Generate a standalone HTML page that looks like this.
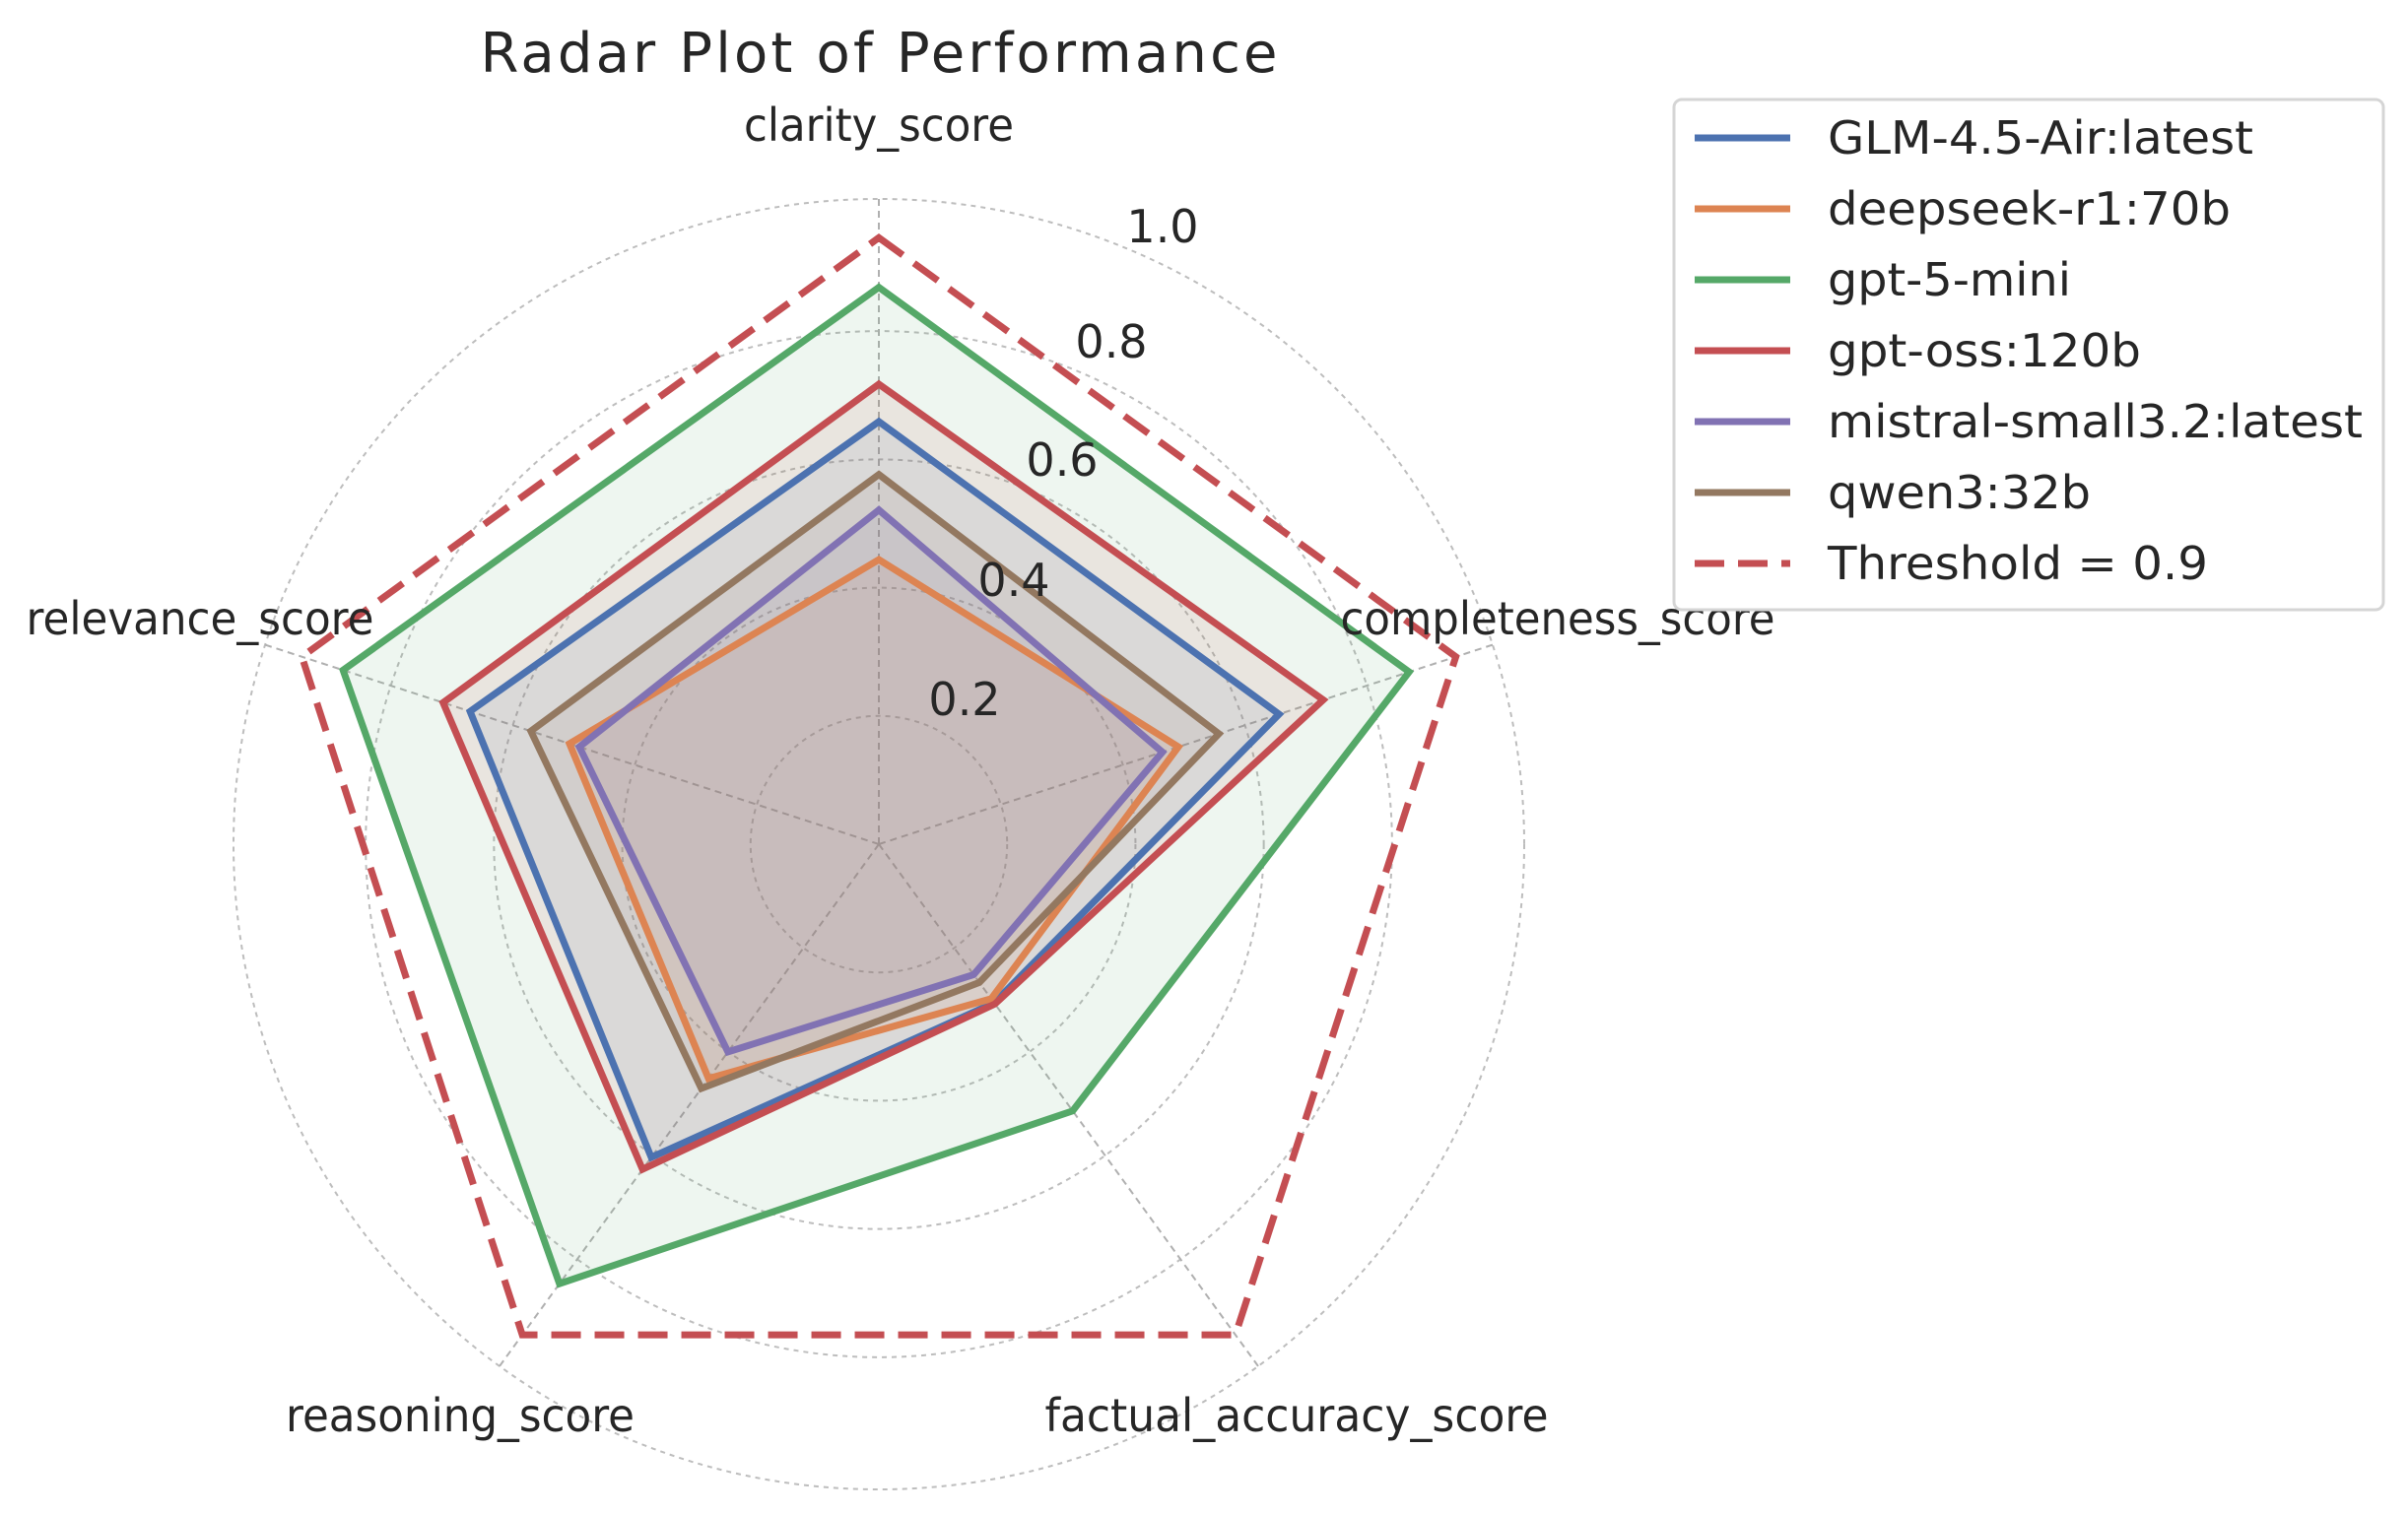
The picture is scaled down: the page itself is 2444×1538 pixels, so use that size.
<!DOCTYPE html>
<html><head><meta charset="utf-8"><title>Radar Plot of Performance</title>
<style>
html,body{margin:0;padding:0;background:#fff;}
svg{display:block;}
text{font-family:"DejaVu Sans","Liberation Sans",sans-serif;fill:#262626;}
</style></head>
<body>
<svg id="chart" width="2444" height="1538" viewBox="0 0 2444 1538" xmlns="http://www.w3.org/2000/svg">
  <text x="892" y="73" font-size="56" text-anchor="middle" textLength="809">Radar Plot of Performance</text>
  <g id="grid"></g>
  <g id="series"></g>
  <g id="ticks"></g>
  <g id="axislabels"></g>
  <g id="legend"></g>
</svg>
<script>
const categories = ["clarity_score","completeness_score","factual_accuracy_score","reasoning_score","relevance_score"];
const seriesNames = ["GLM-4.5-Air:latest","deepseek-r1:70b","gpt-5-mini","gpt-oss:120b","mistral-small3.2:latest","qwen3:32b"];
const glmValues = [0.655,0.652,0.304,0.600,0.666];
const deepseekValues = [0.441,0.488,0.296,0.449,0.504];
const gpt5Values = [0.863,0.864,0.511,0.842,0.873];
const gptossValues = [0.713,0.724,0.306,0.623,0.710];
const mistralValues = [0.518,0.462,0.250,0.398,0.488];
const qwenValues = [0.573,0.554,0.265,0.468,0.567];
const thresholdValue = 0.94;
const thresholdLabel = "Threshold = 0.9";
const tickValues = [0.2,0.4,0.6,0.8,1.0];
const tickLabels = ["0.2","0.4","0.6","0.8","1.0"];

const NS = "http://www.w3.org/2000/svg";
const CX = 892, CY = 857, R = 655;
const colors = ["#4c72b0","#dd8452","#55a868","#c44e52","#8172b3","#937860"];
const allValues = [glmValues,deepseekValues,gpt5Values,gptossValues,mistralValues,qwenValues];
function ang(i){ return -Math.PI/2 + i*2*Math.PI/categories.length; }
function pt(i,v){ const a=ang(i); return [CX+R*v*Math.cos(a), CY+R*v*Math.sin(a)]; }
function mk(tag,attrs,parent){ const e=document.createElementNS(NS,tag); for(const k in attrs) e.setAttribute(k,attrs[k]); parent.appendChild(e); return e; }

const grid=document.getElementById('grid');
tickValues.forEach((t,i)=>{
  const c=mk('circle',{cx:CX,cy:CY,r:R*t*0.994/ (t===1?0.994:1) ,fill:'none',stroke:'#bdbdbd','stroke-width':2,'stroke-dasharray':'5 5'},grid);
  
  
});
categories.forEach((c,i)=>{
  const p=pt(i,1);
  const l=mk('line',{x1:CX,y1:CY,x2:p[0],y2:p[1],stroke:'#b0b0b0','stroke-width':2,'stroke-dasharray':'7 5'},grid);
  
  
});

const sg=document.getElementById('series');
function poly(vals){ return vals.map((v,i)=>pt(i,v).map(n=>n.toFixed(1)).join(',')).join(' '); }
allValues.forEach((vals,s)=>{
  const f=mk('polygon',{points:poly(vals),fill:colors[s],'fill-opacity':0.1,stroke:'none'},sg);
  
  
});
allValues.forEach((vals,s)=>{
  const l=mk('polygon',{points:poly(vals),fill:'none',stroke:colors[s],'stroke-width':7,'stroke-linejoin':'miter'},sg);
  
  
});
const th=mk('polygon',{points:poly(categories.map(()=>thresholdValue)),fill:'none',stroke:'#c44e52','stroke-width':7,'stroke-dasharray':'30 14'},sg);



const tg=document.getElementById('ticks');
const tickPos=[[979,726],[1029,605],[1078,483],[1128,363],[1180,246]];
tickLabels.forEach((t,i)=>{
  const e=mk('text',{x:tickPos[i][0],y:tickPos[i][1],'font-size':46,'text-anchor':'middle',fill:'#333'},tg);
  e.textContent=t;
  
  
});

const ag=document.getElementById('axislabels');
const labelPos=[[892,143,274],[1581,644,441],[1316,1453,511],[467,1453,354],[203,644,353]];
categories.forEach((c,i)=>{
  const e=mk('text',{x:labelPos[i][0],y:labelPos[i][1],'font-size':46,'text-anchor':'middle',textLength:labelPos[i][2],lengthAdjust:'spacingAndGlyphs'},ag);
  e.textContent=c;
  
  
});

const lg=document.getElementById('legend');
const box=mk('rect',{x:1699,y:101,width:720,height:518,rx:8,fill:'#fff','fill-opacity':0.8,stroke:'#d5d5d5','stroke-width':3},lg);


const legendNames=seriesNames.concat([thresholdLabel]);
const legendWidths=[432,409,247,318,543,267,386];
legendNames.forEach((n,i)=>{
  const y=140+i*72;
  const ln=mk('line',{x1:1720,y1:y,x2:1817,y2:y,stroke:i<6?colors[i]:'#c44e52','stroke-width':7},lg);
  if(i===6){ ln.setAttribute('stroke-dasharray','30 14'); }
  
  
  const t=mk('text',{x:1855,y:y+16,'font-size':46,textLength:legendWidths[i],lengthAdjust:'spacingAndGlyphs'},lg);
  t.textContent=n;
  
  
});
</script>
</body></html>
